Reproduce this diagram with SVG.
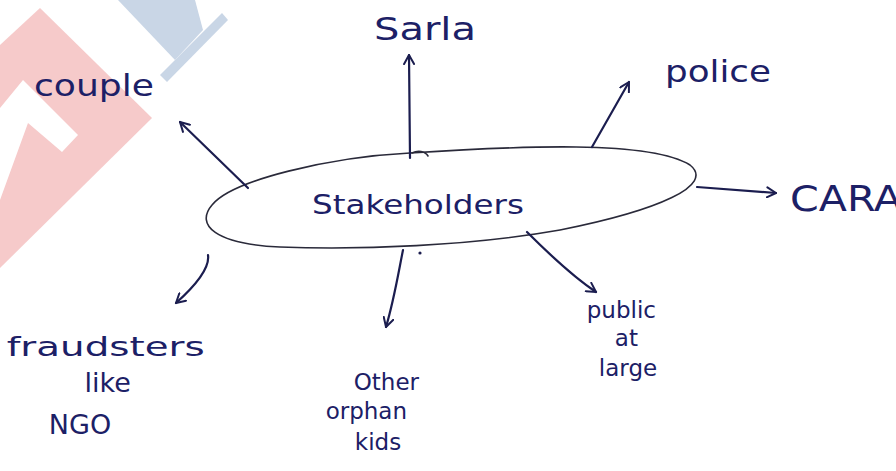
<svg xmlns="http://www.w3.org/2000/svg" width="896" height="471" viewBox="0 0 896 471">
  <style>
    .ink { fill: none; stroke: #1b1d4f; stroke-width: 2.2; stroke-linecap: round; stroke-linejoin: round; }
    .rim { fill: none; stroke: #2a2a3a; stroke-width: 1.6; stroke-linecap: round; }
    .lbl { font-family: "DejaVu Sans", "Liberation Sans", sans-serif; fill: #1c2066; }
  </style>
  <defs>
    <marker id="head" viewBox="0 0 12 12" refX="10" refY="6" markerWidth="12" markerHeight="12" markerUnits="userSpaceOnUse" orient="auto">
      <path d="M1,1 L10,6 L1,11" fill="none" stroke="#1b1d4f" stroke-width="2" stroke-linecap="round" stroke-linejoin="round"/>
    </marker>
  </defs>
  <rect width="896" height="471" fill="#ffffff"/>

  <!-- faint logo watermark, top left -->
  <g id="watermark">
    <path d="M0,45 L40,8 L152,118 L0,268 Z" fill="#f6caca"/>
    <path d="M0,108 L23,80 L78,135 L62,152 L28,123 L0,200 Z" fill="#ffffff"/>
    <path d="M118,0 L195,0 L203,30 L175,60 Z" fill="#c9d6e6"/>
    <path d="M160,75 L222,13 L228,20 L167,82 Z" fill="#c9d6e6"/>
  </g>

  <!-- central node -->
  <g id="stakeholders">
    <path class="rim" d="M410,153 C520,146 650,140 690,165 C715,185 660,210 560,230 C470,246 360,250 280,247 C215,244 195,225 212,205 C232,180 330,157 410,153 Z"/>
    <path class="rim" d="M412,153 C418,150 425,151 428,156"/>
    <text class="lbl" x="312" y="214" font-size="27" textLength="212" lengthAdjust="spacingAndGlyphs">Stakeholders</text>
  </g>

  <!-- connectors from the central node -->
  <g id="connectors">
    <path class="ink" d="M248,188 L180,122" marker-end="url(#head)"/>
    <path class="ink" d="M410,158 L409,55" marker-end="url(#head)"/>
    <path class="ink" d="M592,147 L629,82" marker-end="url(#head)"/>
    <path class="ink" d="M697,187 L776,193" marker-end="url(#head)"/>
    <path class="ink" d="M527,232 C550,255 575,278 596,292" marker-end="url(#head)"/>
    <path class="ink" d="M403,250 C398,275 394,300 386,327" marker-end="url(#head)"/>
    <path class="ink" d="M208,255 C210,268 196,285 176,303" marker-end="url(#head)"/>
    <circle cx="420" cy="253" r="1.6" fill="#1b1d4f"/>
  </g>

  <!-- outer nodes -->
  <g id="couple">
    <text class="lbl" x="34" y="96" font-size="30" textLength="120" lengthAdjust="spacingAndGlyphs">couple</text>
  </g>
  <g id="sarla">
    <text class="lbl" x="374" y="40" font-size="32" textLength="102" lengthAdjust="spacingAndGlyphs">Sarla</text>
  </g>
  <g id="police">
    <text class="lbl" x="665" y="82" font-size="30" textLength="106" lengthAdjust="spacingAndGlyphs">police</text>
  </g>
  <g id="cara">
    <text class="lbl" x="790" y="211" font-size="36" textLength="112" lengthAdjust="spacingAndGlyphs">CARA</text>
  </g>
  <g id="public">
    <text class="lbl" font-size="23" text-anchor="middle">
      <tspan x="625" y="318">public</tspan>
      <tspan x="630" y="346">at</tspan>
      <tspan x="628" y="376">large</tspan>
    </text>
  </g>
  <g id="orphans">
    <text class="lbl" font-size="23" text-anchor="middle">
      <tspan x="390" y="390">Other</tspan>
      <tspan x="370" y="419">orphan</tspan>
      <tspan x="378" y="450">kids</tspan>
    </text>
  </g>
  <g id="fraudsters">
    <text class="lbl" font-size="27" text-anchor="middle">
      <tspan x="110" y="356" textLength="198" lengthAdjust="spacingAndGlyphs">fraudsters</tspan>
      <tspan x="112" y="392">like</tspan>
      <tspan x="80" y="434">NGO</tspan>
    </text>
  </g>
</svg>
